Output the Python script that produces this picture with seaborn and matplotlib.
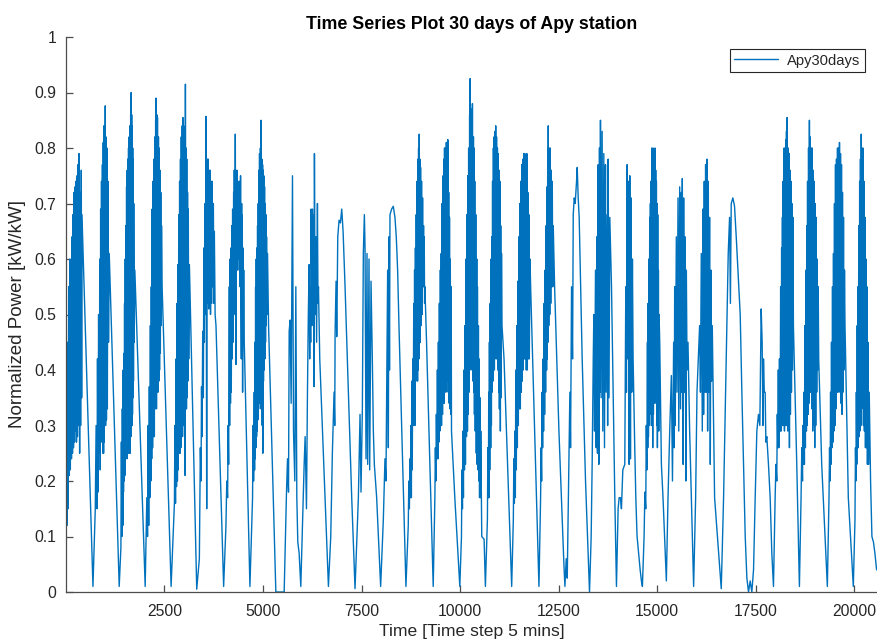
import numpy as np
import pandas as pd
import matplotlib
matplotlib.use('Agg')
import matplotlib.pyplot as plt
import seaborn as sns

# Apy station, normalized power (one line per day)
time_step = [
    1, 12, 26, 43, 55, 69, 85, 98, 111, 128, 140, 153, 166, 178, 191, 204, 216, 229, 241, 254, 267, 280, 292, 305, 318, 330, 347, 360, 372, 389, 398, 406, 685,
    744, 765, 786, 800, 814, 828, 845, 858, 870, 880, 890, 902, 913, 925, 938, 946, 955, 964, 972, 985, 991, 997, 1006, 1015, 1027, 1039, 1050, 1065, 1080, 1098, 1351,
    1394, 1406, 1419, 1430, 1444, 1452, 1460, 1470, 1478, 1487, 1495, 1504, 1512, 1521, 1530, 1538, 1546, 1554, 1562, 1570, 1579, 1588, 1596, 1604, 1613, 1622, 1630, 1642, 1648, 1655, 1662, 1668, 1675, 1681, 1688, 1694, 1700, 1706, 1713, 1720, 1731, 1748, 2010,
    2052, 2070, 2085, 2100, 2115, 2128, 2142, 2153, 2165, 2176, 2187, 2198, 2210, 2221, 2232, 2243, 2254, 2265, 2276, 2282, 2288, 2297, 2305, 2314, 2322, 2334, 2347, 2356, 2366, 2375, 2385, 2395, 2406, 2415, 2425, 2440, 2668,
    2752, 2765, 2780, 2795, 2805, 2818, 2828, 2840, 2850, 2862, 2872, 2884, 2896, 2906, 2915, 2926, 2938, 2950, 2958, 2966, 2975, 2985, 2997, 3008, 3023, 3031, 3040, 3050, 3058, 3065, 3075, 3085, 3094, 3104, 3115, 3132, 3318,
    3385, 3410, 3427, 3440, 3453, 3470, 3486, 3500, 3512, 3530, 3542, 3554, 3571, 3585, 3596, 3610, 3621, 3632, 3645, 3655, 3668, 3680, 3695, 3708, 3723, 3740, 3755, 3765, 3785, 3807, 4001,
    4060, 4080, 4102, 4115, 4128, 4145, 4153, 4165, 4175, 4187, 4195, 4210, 4220, 4229, 4240, 4255, 4262, 4271, 4285, 4297, 4313, 4322, 4330, 4338, 4345, 4355, 4364, 4372, 4380, 4390, 4398, 4410, 4420, 4430, 4440, 4450, 4458, 4465, 4474, 4482, 4490, 4499, 4510, 4524, 4668,
    4735, 4748, 4761, 4778, 4786, 4795, 4803, 4812, 4820, 4828, 4837, 4845, 4854, 4862, 4870, 4879, 4888, 4896, 4904, 4912, 4921, 4934, 4946, 4950, 4960, 4972, 4980, 4989, 4995, 5005, 5012, 5020, 5030, 5039, 5048, 5055, 5064, 5073, 5082, 5090, 5100, 5115, 5141, 5326, 5537,
    5596, 5622, 5647, 5664, 5689, 5714, 5748, 5774, 5807, 5833, 5858, 5883, 5917, 5959,
    6001, 6044, 6069, 6103, 6128, 6150, 6170, 6185, 6195, 6210, 6221, 6240, 6255, 6270, 6280, 6297, 6305, 6320, 6339, 6360, 6381, 6395, 6407, 6440, 6660,
    6719, 6760, 6803, 6820, 6829, 6854, 6871, 6897, 6930, 6964, 6998, 7032, 7082, 7167, 7251, 7335,
    7420, 7462, 7487, 7521, 7546, 7572, 7589, 7614, 7639, 7656, 7690, 7707, 7741, 7774, 7800, 7825, 7884, 7985,
    8053, 8095, 8120, 8146, 8163, 8180, 8196, 8210, 8222, 8264, 8306, 8348, 8382, 8416, 8450, 8627,
    8686, 8700, 8714, 8728, 8740, 8753, 8765, 8775, 8787, 8800, 8812, 8825, 8838, 8846, 8855, 8867, 8880, 8888, 8897, 8910, 8922, 8930, 8939, 8948, 8956, 8964, 8972, 8981, 8990, 8998, 9010, 9023, 9036, 9049, 9060, 9074, 9082, 9091, 9100, 9108, 9150, 9319,
    9361, 9374, 9386, 9399, 9412, 9425, 9437, 9450, 9462, 9475, 9488, 9500, 9513, 9522, 9530, 9543, 9555, 9568, 9581, 9589, 9597, 9606, 9614, 9626, 9639, 9652, 9665, 9674, 9682, 9690, 9700, 9712, 9724, 9732, 9741, 9752, 9766, 9775, 9783, 9867, 9994,
    10036, 10048, 10061, 10073, 10086, 10099, 10112, 10124, 10137, 10150, 10163, 10175, 10188, 10196, 10205, 10218, 10230, 10243, 10250, 10256, 10270, 10285, 10300, 10314, 10327, 10340, 10348, 10356, 10365, 10373, 10386, 10399, 10412, 10424, 10432, 10441, 10454, 10466, 10475, 10483, 10495, 10508, 10517, 10525, 10551, 10610, 10643,
    10694, 10706, 10719, 10728, 10736, 10745, 10753, 10765, 10778, 10787, 10795, 10804, 10812, 10825, 10837, 10846, 10854, 10862, 10871, 10884, 10897, 10905, 10913, 10926, 10939, 10948, 10956, 10968, 10981, 10990, 10998, 11010, 11023, 11032, 11040, 11052, 11065, 11116, 11310,
    11352, 11365, 11378, 11390, 11403, 11415, 11428, 11440, 11454, 11466, 11479, 11491, 11504, 11517, 11530, 11542, 11555, 11567, 11580, 11592, 11605, 11618, 11631, 11643, 11656, 11668, 11681, 11694, 11707, 11720, 11732, 11745, 11757, 11775, 11791, 12002,
    12044, 12057, 12070, 12083, 12095, 12108, 12120, 12133, 12146, 12158, 12171, 12183, 12196, 12205, 12213, 12225, 12232, 12238, 12251, 12264, 12276, 12289, 12301, 12314, 12327, 12340, 12352, 12365, 12399, 12509, 12635,
    12661, 12694, 12720, 12762, 12787, 12804, 12829, 12855, 12872, 12897, 12922, 12956, 12973, 12998, 13023, 13099, 13184, 13285,
    13327, 13352, 13380, 13395, 13412, 13437, 13455, 13470, 13487, 13505, 13521, 13538, 13550, 13563, 13580, 13606, 13622, 13648, 13665, 13690, 13705, 13732, 13745, 13758, 13780, 13800, 13843, 13927, 13969,
    14011, 14037, 14070, 14095, 14130, 14180, 14206, 14222, 14239, 14256, 14273, 14290, 14307, 14324, 14341, 14357, 14374, 14391, 14433, 14460, 14492, 14530, 14570, 14602,
    14627, 14670, 14690, 14712, 14726, 14740, 14755, 14763, 14771, 14780, 14790, 14800, 14813, 14822, 14830, 14838, 14847, 14856, 14864, 14872, 14880, 14889, 14898, 14906, 14915, 14923, 14931, 14940, 14948, 14957, 14965, 14974, 14982, 14991, 15000, 15008, 15016, 15025, 15033, 15042, 15050, 15067, 15109, 15150, 15235,
    15277, 15320, 15362, 15390, 15420, 15435, 15446, 15460, 15488, 15505, 15531, 15550, 15573, 15595, 15615, 15630, 15640, 15660, 15674, 15690, 15708, 15730, 15742, 15760, 15784, 15826, 15927,
    15978, 16012, 16046, 16079, 16100, 16121, 16147, 16164, 16180, 16197, 16215, 16231, 16250, 16265, 16282, 16299, 16315, 16332, 16350, 16366, 16380, 16400, 16459, 16628,
    16687, 16738, 16771, 16805, 16839, 16860, 16881, 16923, 16965, 17008, 17109, 17151, 17193, 17236, 17278, 17320, 17362, 17404,
    17447, 17489, 17531, 17573, 17607, 17641, 17666, 17684, 17700, 17720, 17742, 17760, 17784, 17826, 17869, 17911, 17953,
    17995, 18016, 18037, 18050, 18063, 18076, 18088, 18105, 18122, 18135, 18147, 18160, 18172, 18180, 18189, 18198, 18206, 18219, 18232, 18245, 18257, 18266, 18274, 18283, 18291, 18300, 18316, 18328, 18341, 18350, 18358, 18370, 18383, 18396, 18409, 18421, 18434, 18446, 18459, 18544, 18611,
    18653, 18672, 18690, 18700, 18712, 18725, 18738, 18750, 18763, 18776, 18789, 18797, 18805, 18818, 18831, 18843, 18856, 18865, 18873, 18885, 18898, 18911, 18924, 18936, 18949, 18961, 18974, 18987, 19000, 19012, 19025, 19037, 19050, 19063, 19076, 19088, 19101, 19177, 19261, 19320,
    19362, 19376, 19390, 19402, 19413, 19425, 19438, 19451, 19464, 19476, 19489, 19501, 19514, 19527, 19540, 19552, 19565, 19578, 19590, 19603, 19616, 19628, 19641, 19654, 19666, 19679, 19692, 19704, 19717, 19730, 19742, 19755, 19768, 19852, 19979,
    20021, 20034, 20046, 20056, 20067, 20078, 20088, 20096, 20105, 20118, 20130, 20140, 20147, 20160, 20173, 20180, 20190, 20198, 20210, 20223, 20236, 20248, 20260, 20274, 20287, 20299, 20312, 20324, 20337, 20350, 20365, 20383, 20417, 20451, 20490, 20527, 20569,
]

power = [
    0.0, 0.30, 0.12, 0.45, 0.15, 0.55, 0.21, 0.60, 0.22, 0.58, 0.24, 0.64, 0.25, 0.68, 0.26, 0.72, 0.27, 0.73, 0.29, 0.74, 0.27, 0.75, 0.28, 0.77, 0.30, 0.79, 0.25, 0.72, 0.30, 0.76, 0.35, 0.68, 0.01,
    0.15, 0.30, 0.15, 0.42, 0.18, 0.50, 0.25, 0.60, 0.22, 0.69, 0.30, 0.74, 0.27, 0.77, 0.25, 0.81, 0.25, 0.84, 0.27, 0.80, 0.31, 0.876, 0.30, 0.82, 0.31, 0.80, 0.33, 0.74, 0.45, 0.61, 0.01,
    0.08, 0.27, 0.10, 0.33, 0.12, 0.40, 0.18, 0.43, 0.20, 0.52, 0.21, 0.60, 0.24, 0.66, 0.25, 0.73, 0.24, 0.76, 0.25, 0.78, 0.26, 0.80, 0.25, 0.82, 0.27, 0.84, 0.25, 0.86, 0.28, 0.90, 0.30, 0.86, 0.30, 0.84, 0.32, 0.80, 0.35, 0.78, 0.38, 0.70, 0.45, 0.58, 0.01,
    0.17, 0.10, 0.30, 0.12, 0.37, 0.17, 0.48, 0.20, 0.55, 0.24, 0.69, 0.26, 0.74, 0.28, 0.78, 0.28, 0.82, 0.33, 0.85, 0.35, 0.89, 0.33, 0.86, 0.36, 0.855, 0.36, 0.82, 0.38, 0.80, 0.40, 0.76, 0.43, 0.72, 0.48, 0.66, 0.55, 0.01,
    0.16, 0.30, 0.16, 0.42, 0.19, 0.52, 0.20, 0.59, 0.22, 0.68, 0.25, 0.74, 0.25, 0.78, 0.26, 0.82, 0.28, 0.84, 0.28, 0.855, 0.30, 0.84, 0.30, 0.835, 0.21, 0.915, 0.33, 0.80, 0.33, 0.78, 0.35, 0.72, 0.38, 0.69, 0.42, 0.59, 0.005,
    0.06, 0.26, 0.20, 0.37, 0.28, 0.47, 0.35, 0.62, 0.45, 0.70, 0.50, 0.857, 0.15, 0.78, 0.52, 0.78, 0.51, 0.76, 0.52, 0.76, 0.50, 0.74, 0.52, 0.74, 0.55, 0.70, 0.52, 0.65, 0.50, 0.48, 0.01,
    0.12, 0.20, 0.17, 0.30, 0.23, 0.55, 0.30, 0.60, 0.34, 0.62, 0.36, 0.66, 0.42, 0.69, 0.45, 0.72, 0.50, 0.76, 0.55, 0.825, 0.41, 0.75, 0.58, 0.76, 0.58, 0.73, 0.60, 0.73, 0.60, 0.74, 0.58, 0.74, 0.55, 0.75, 0.52, 0.42, 0.70, 0.45, 0.68, 0.36, 0.62, 0.45, 0.58, 0.45, 0.01,
    0.17, 0.30, 0.20, 0.36, 0.22, 0.45, 0.24, 0.55, 0.26, 0.60, 0.28, 0.62, 0.29, 0.66, 0.31, 0.70, 0.33, 0.76, 0.34, 0.79, 0.35, 0.80, 0.33, 0.85, 0.36, 0.78, 0.30, 0.77, 0.25, 0.76, 0.38, 0.75, 0.40, 0.73, 0.42, 0.70, 0.45, 0.68, 0.48, 0.64, 0.50, 0.61, 0.48, 0.0, 0.0,
    0.18, 0.24, 0.18, 0.47, 0.49, 0.34, 0.75, 0.29, 0.20, 0.55, 0.17, 0.09, 0.07, 0.01,
    0.12, 0.23, 0.28, 0.15, 0.36, 0.50, 0.59, 0.42, 0.55, 0.45, 0.69, 0.48, 0.69, 0.50, 0.68, 0.37, 0.79, 0.50, 0.64, 0.45, 0.70, 0.52, 0.55, 0.42, 0.01,
    0.10, 0.25, 0.36, 0.30, 0.465, 0.56, 0.46, 0.64, 0.67, 0.665, 0.69, 0.65, 0.55, 0.36, 0.17, 0.006,
    0.17, 0.32, 0.18, 0.33, 0.61, 0.68, 0.62, 0.24, 0.61, 0.23, 0.60, 0.22, 0.56, 0.42, 0.29, 0.23, 0.17, 0.01,
    0.13, 0.24, 0.20, 0.42, 0.58, 0.26, 0.64, 0.40, 0.68, 0.69, 0.695, 0.675, 0.64, 0.58, 0.48, 0.01,
    0.12, 0.20, 0.15, 0.24, 0.17, 0.30, 0.17, 0.38, 0.22, 0.42, 0.30, 0.52, 0.32, 0.58, 0.30, 0.62, 0.38, 0.68, 0.43, 0.74, 0.38, 0.78, 0.40, 0.80, 0.42, 0.825, 0.45, 0.78, 0.45, 0.765, 0.48, 0.74, 0.50, 0.71, 0.55, 0.66, 0.55, 0.64, 0.52, 0.55, 0.45, 0.01,
    0.17, 0.26, 0.20, 0.32, 0.24, 0.40, 0.24, 0.45, 0.27, 0.52, 0.29, 0.58, 0.33, 0.61, 0.30, 0.70, 0.32, 0.75, 0.36, 0.78, 0.34, 0.80, 0.38, 0.80, 0.36, 0.81, 0.40, 0.80, 0.38, 0.815, 0.36, 0.72, 0.34, 0.675, 0.33, 0.60, 0.32, 0.55, 0.29, 0.17, 0.01,
    0.10, 0.22, 0.15, 0.29, 0.17, 0.40, 0.22, 0.48, 0.23, 0.60, 0.28, 0.68, 0.29, 0.75, 0.32, 0.80, 0.36, 0.86, 0.40, 0.925, 0.42, 0.87, 0.40, 0.88, 0.38, 0.82, 0.36, 0.80, 0.32, 0.74, 0.29, 0.68, 0.25, 0.60, 0.23, 0.55, 0.22, 0.48, 0.20, 0.42, 0.17, 0.35, 0.17, 0.29, 0.10, 0.095, 0.01,
    0.13, 0.26, 0.17, 0.36, 0.17, 0.45, 0.22, 0.52, 0.26, 0.60, 0.30, 0.64, 0.36, 0.74, 0.38, 0.80, 0.42, 0.82, 0.40, 0.83, 0.45, 0.84, 0.42, 0.82, 0.42, 0.80, 0.40, 0.79, 0.36, 0.76, 0.33, 0.74, 0.29, 0.66, 0.35, 0.61, 0.48, 0.42, 0.01,
    0.13, 0.24, 0.16, 0.29, 0.17, 0.40, 0.22, 0.48, 0.26, 0.56, 0.30, 0.64, 0.33, 0.70, 0.33, 0.74, 0.36, 0.77, 0.38, 0.78, 0.40, 0.79, 0.42, 0.79, 0.42, 0.78, 0.40, 0.79, 0.40, 0.72, 0.42, 0.68, 0.42, 0.60, 0.55, 0.01,
    0.17, 0.26, 0.20, 0.36, 0.26, 0.42, 0.29, 0.52, 0.32, 0.58, 0.36, 0.66, 0.40, 0.73, 0.42, 0.80, 0.45, 0.84, 0.48, 0.80, 0.50, 0.80, 0.52, 0.76, 0.55, 0.74, 0.55, 0.66, 0.55, 0.29, 0.05,
    0.01, 0.06, 0.025, 0.23, 0.36, 0.26, 0.55, 0.42, 0.68, 0.71, 0.70, 0.74, 0.765, 0.71, 0.675, 0.42, 0.20, 0.0,
    0.10, 0.23, 0.42, 0.50, 0.29, 0.58, 0.26, 0.64, 0.25, 0.77, 0.23, 0.80, 0.36, 0.85, 0.35, 0.83, 0.29, 0.79, 0.26, 0.77, 0.36, 0.68, 0.30, 0.78, 0.35, 0.675, 0.55, 0.17, 0.01,
    0.15, 0.17, 0.17, 0.15, 0.22, 0.23, 0.55, 0.36, 0.77, 0.42, 0.74, 0.23, 0.75, 0.24, 0.71, 0.36, 0.60, 0.42, 0.26, 0.17, 0.10, 0.07, 0.04, 0.02,
    0.01, 0.10, 0.18, 0.15, 0.30, 0.22, 0.45, 0.26, 0.52, 0.28, 0.60, 0.30, 0.675, 0.32, 0.70, 0.36, 0.74, 0.30, 0.80, 0.30, 0.78, 0.26, 0.80, 0.32, 0.78, 0.34, 0.78, 0.36, 0.80, 0.36, 0.76, 0.34, 0.74, 0.30, 0.70, 0.26, 0.68, 0.30, 0.58, 0.29, 0.50, 0.45, 0.23, 0.17, 0.02,
    0.17, 0.29, 0.39, 0.20, 0.45, 0.26, 0.55, 0.30, 0.64, 0.36, 0.71, 0.29, 0.73, 0.33, 0.72, 0.36, 0.745, 0.23, 0.71, 0.36, 0.64, 0.20, 0.58, 0.40, 0.45, 0.29, 0.01,
    0.17, 0.36, 0.42, 0.48, 0.36, 0.61, 0.29, 0.69, 0.32, 0.74, 0.36, 0.77, 0.36, 0.78, 0.29, 0.74, 0.36, 0.675, 0.23, 0.58, 0.38, 0.48, 0.17, 0.006,
    0.17, 0.36, 0.48, 0.61, 0.675, 0.52, 0.70, 0.71, 0.695, 0.64, 0.50, 0.36, 0.23, 0.10, 0.025, 0.0, 0.02, 0.0,
    0.04, 0.17, 0.29, 0.32, 0.30, 0.51, 0.45, 0.30, 0.42, 0.36, 0.36, 0.27, 0.28, 0.23, 0.17, 0.07, 0.01,
    0.17, 0.23, 0.20, 0.32, 0.26, 0.40, 0.26, 0.42, 0.29, 0.55, 0.29, 0.62, 0.30, 0.675, 0.32, 0.74, 0.30, 0.80, 0.29, 0.80, 0.30, 0.815, 0.33, 0.83, 0.30, 0.855, 0.29, 0.80, 0.30, 0.79, 0.26, 0.76, 0.32, 0.74, 0.36, 0.70, 0.40, 0.675, 0.48, 0.23, 0.01,
    0.17, 0.26, 0.20, 0.30, 0.23, 0.36, 0.23, 0.48, 0.26, 0.58, 0.29, 0.66, 0.30, 0.74, 0.32, 0.80, 0.34, 0.85, 0.36, 0.82, 0.36, 0.80, 0.33, 0.80, 0.29, 0.76, 0.30, 0.74, 0.26, 0.70, 0.30, 0.675, 0.36, 0.60, 0.40, 0.55, 0.42, 0.23, 0.10, 0.01,
    0.17, 0.26, 0.20, 0.36, 0.23, 0.45, 0.26, 0.55, 0.27, 0.61, 0.29, 0.70, 0.30, 0.77, 0.33, 0.78, 0.36, 0.80, 0.36, 0.80, 0.38, 0.81, 0.36, 0.79, 0.34, 0.77, 0.32, 0.72, 0.36, 0.675, 0.40, 0.58, 0.48, 0.17, 0.01,
    0.13, 0.26, 0.20, 0.36, 0.23, 0.48, 0.26, 0.55, 0.26, 0.66, 0.28, 0.74, 0.29, 0.78, 0.30, 0.825, 0.33, 0.80, 0.36, 0.80, 0.30, 0.74, 0.29, 0.675, 0.26, 0.60, 0.26, 0.55, 0.23, 0.45, 0.23, 0.36, 0.20, 0.10, 0.09, 0.07, 0.04,
]
assert len(time_step) == len(power)

x_ticks = [2500, 5000, 7500, 10000, 12500, 15000, 17500, 20000]
y_ticks = [0, 0.1, 0.2, 0.3, 0.4, 0.5, 0.6, 0.7, 0.8, 0.9, 1]
y_ticklabels = ['0', '0.1', '0.2', '0.3', '0.4', '0.5', '0.6', '0.7', '0.8', '0.9', '1']

df = pd.DataFrame({'time_step': time_step, 'power': power})

sns.set_style('white')
plt.rcParams['font.family'] = ['Liberation Sans', 'DejaVu Sans']

axis_color = '#4d4d4d'
text_color = '#262626'
line_color = '#0072BD'

fig = plt.figure(figsize=(8.77, 6.41), dpi=100)
ax = fig.add_axes([66 / 877, 1 - 592 / 641, 1 - 66 / 877, (592 - 37) / 641])

sns.lineplot(data=df, x='time_step', y='power', estimator=None, sort=False,
             color=line_color, linewidth=1.0, label='Apy30days', ax=ax)

ax.set_xlim(1, 20580)
ax.set_ylim(0, 1)
ax.set_xticks(x_ticks)
ax.set_xticklabels([str(t) for t in x_ticks])
ax.set_yticks(y_ticks)
ax.set_yticklabels(y_ticklabels)

for side in ['top', 'right']:
    ax.spines[side].set_visible(False)
for side in ['left', 'bottom']:
    ax.spines[side].set_color(axis_color)
    ax.spines[side].set_linewidth(0.9)

ax.tick_params(direction='in', length=5, width=0.9, color=axis_color,
               labelcolor=text_color, labelsize=11.3, bottom=True, left=True)
ax.tick_params(axis='x', pad=9)
ax.tick_params(axis='y', pad=7)

ax.set_title('Time Series Plot 30 days of Apy station', fontsize=12.8,
             fontweight='bold', color='black', pad=6)
ax.set_xlabel('Time [Time step 5 mins]', fontsize=12.6, color=text_color, labelpad=3)
ax.set_ylabel('Normalized Power [kW/kW]', fontsize=13.5, color=text_color, labelpad=6)

leg = ax.legend(loc='upper right', bbox_to_anchor=(0.985, 0.978), fontsize=10.6,
                frameon=True, fancybox=False, framealpha=1, edgecolor=text_color,
                borderpad=0.3, handlelength=3.0, handletextpad=0.6, borderaxespad=0)
leg.get_frame().set_linewidth(0.8)

fig.savefig('out.png', dpi=100)
plt.close('all')
